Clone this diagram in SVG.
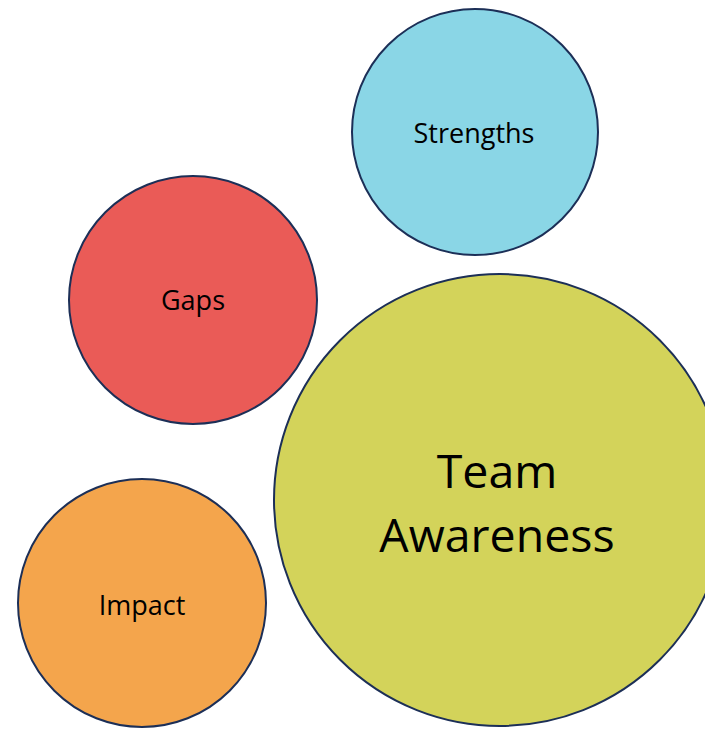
<svg xmlns="http://www.w3.org/2000/svg" width="705" height="729" viewBox="0 0 705 729">
<style>
.c{stroke:#1c2f57;stroke-width:2}
.t{font-family:"Open Sans","Noto Sans",sans-serif;fill:#000;text-anchor:middle}
.s{font-size:27px}
.l{font-size:46.5px}
</style>
<rect width="705" height="729" fill="#fff"/>
<g id="connectors"/>
<g id="strengths">
<circle class="c" cx="475" cy="132" r="123" fill="#8ad6e6"/>
<text class="t s" x="474" y="143">Strengths</text>
</g>
<g id="gaps">
<circle class="c" cx="193" cy="300" r="124" fill="#ea5b57"/>
<text class="t s" x="193" y="310">Gaps</text>
</g>
<g id="impact">
<circle class="c" cx="142" cy="603" r="124" fill="#f4a54c"/>
<text class="t s" x="142" y="615">Impact</text>
</g>
<g id="team-awareness">
<circle class="c" cx="500" cy="500" r="226" fill="#d3d35a"/>
<text class="t l" x="497" y="488">Team</text>
<text class="t l" x="497" y="552">Awareness</text>
</g>
</svg>
